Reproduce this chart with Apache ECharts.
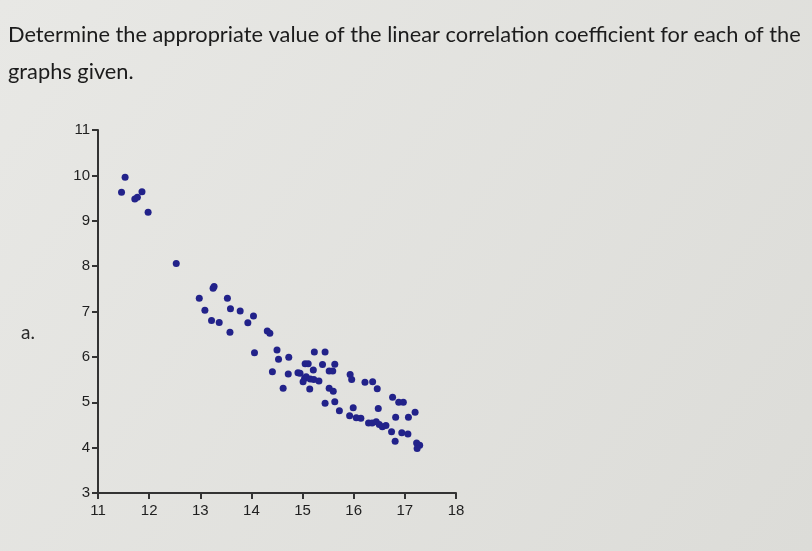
<!DOCTYPE html>
<html>
<head>
<meta charset="utf-8">
<script src="https://cdn.jsdelivr.net/npm/echarts@6/dist/echarts.min.js"></script>
<style>
html,body{margin:0;padding:0;background:#e4e4e0;}
#chart{width:812px;height:551px;}
</style>
</head>
<body>
<div id="chart"></div>
<script>
const titleLines = ["Determine the appropriate value of the linear correlation coefficient for each of the", "graphs given."];
const panelLabel = "a.";
const xTicks = [11, 12, 13, 14, 15, 16, 17, 18];
const yTicks = [3, 4, 5, 6, 7, 8, 9, 10, 11];
const xValues = [11.53,11.46,11.86,11.77,11.72,11.98,12.53,13.27,13.25,12.98,13.53,13.09,13.59,13.78,13.22,13.37,14.04,13.93,13.58,14.31,14.36,14.06,14.50,14.53,14.73,15.23,15.44,15.05,15.11,15.39,15.63,15.21,15.52,15.59,14.41,14.72,14.91,14.95,15.04,15.07,15.01,15.15,15.22,15.32,15.93,15.96,14.62,15.14,15.52,15.60,16.22,16.37,16.46,15.44,15.63,15.72,15.99,15.92,16.05,16.14,16.29,16.36,16.44,16.50,16.56,16.63,16.48,16.76,16.88,16.97,17.20,16.82,17.07,16.74,16.94,17.06,16.81,17.23,17.29,17.24];
const yValues = [9.96,9.63,9.64,9.52,9.48,9.19,8.06,7.55,7.51,7.29,7.29,7.03,7.06,7.01,6.80,6.76,6.90,6.75,6.54,6.57,6.52,6.09,6.15,5.95,5.99,6.11,6.11,5.85,5.85,5.83,5.84,5.71,5.69,5.69,5.67,5.62,5.65,5.64,5.53,5.56,5.45,5.51,5.50,5.47,5.61,5.50,5.31,5.29,5.31,5.24,5.44,5.45,5.30,4.98,5.01,4.81,4.88,4.70,4.66,4.65,4.54,4.54,4.57,4.51,4.46,4.49,4.86,5.11,5.00,5.00,4.78,4.67,4.67,4.35,4.33,4.30,4.14,4.10,4.05,3.98];

const points = xValues.map((x, i) => [x, yValues[i]]);
const axisColor = '#333333';
const chart = echarts.init(document.getElementById('chart'), null, {renderer: 'canvas'});
chart.setOption({
  backgroundColor: {
    type: 'linear', x: 0, y: 0, x2: 1, y2: 1,
    colorStops: [{offset: 0, color: '#e8e8e5'}, {offset: 1, color: '#dcdcd8'}]
  },
  animation: false,
  title: {
    text: titleLines.join('\n'),
    left: 3, top: 11,
    textStyle: {fontFamily: 'Lato', fontSize: 21.8, fontWeight: 'normal', color: '#1c1c1c', lineHeight: 37}
  },
  graphic: [{
    type: 'text', left: 21, top: 323,
    style: {text: panelLabel, font: '19px Lato', fill: '#2a2a2a'}
  }],
  grid: {left: 98, right: 356, top: 130, bottom: 58, containLabel: false},
  xAxis: {
    type: 'value', min: 11, max: 18, interval: 1,
    axisLine: {show: true, onZero: false, lineStyle: {color: axisColor, width: 2}},
    axisTick: {show: true, length: 6, lineStyle: {color: axisColor, width: 2}},
    axisLabel: {color: '#1f1f1f', fontFamily: 'Liberation Sans', fontSize: 15, margin: 10},
    splitLine: {show: false}
  },
  yAxis: {
    type: 'value', min: 3, max: 11, interval: 1,
    axisLine: {show: true, onZero: false, lineStyle: {color: axisColor, width: 2}},
    axisTick: {show: true, length: 6, lineStyle: {color: axisColor, width: 2}},
    axisLabel: {color: '#1f1f1f', fontFamily: 'Liberation Sans', fontSize: 15, margin: 8},
    splitLine: {show: false}
  },
  series: [{
    type: 'scatter',
    data: points,
    symbol: 'circle',
    symbolSize: 7,
    itemStyle: {color: '#22228a', opacity: 1}
  }]
});
</script>
</body>
</html>
